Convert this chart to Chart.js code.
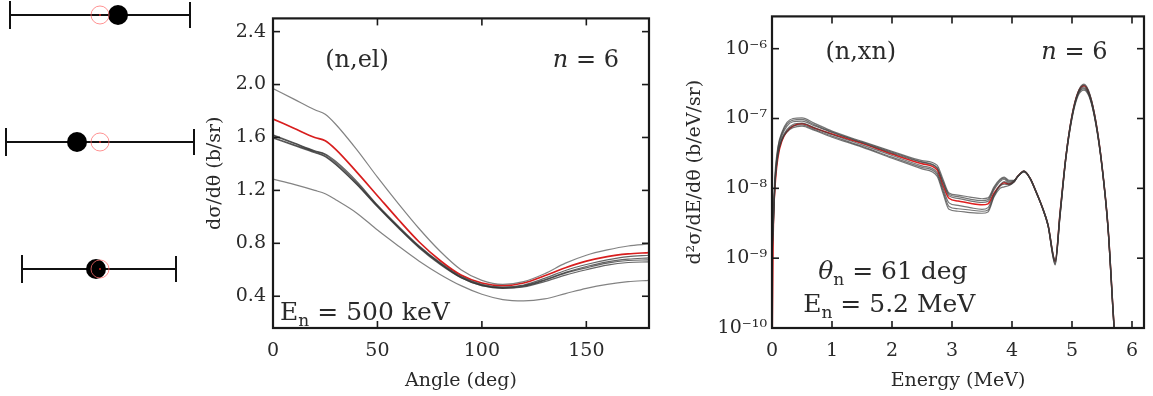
<!DOCTYPE html>
<html>
<head>
<meta charset="utf-8">
<script src="https://cdn.jsdelivr.net/npm/chart.js@4.4.0/dist/chart.umd.min.js"></script>
<style>
  html, body { margin: 0; padding: 0; background: #fff; }
  body { width: 1153px; height: 396px; position: relative; overflow: hidden; }
  canvas { position: absolute; top: 0; }
</style>
</head>
<body>
<canvas id="cLeft" width="200" height="396" style="left:0px"></canvas>
<canvas id="cMid" width="470" height="396" style="left:195px"></canvas>
<canvas id="cRight" width="473" height="396" style="left:680px"></canvas>
<script>
// ---------------- Left panel: error-bar rows ----------------
const rowPos = [1, 2, 3];
const blackX = [118, 77, 96];
const redX = [100, 100, 100];
const errLow = [10, 6, 22];
const errHigh = [190, 194, 176];

// ---------------- Middle panel: (n,el) angular distribution ----------------
const angles = [0, 10, 20, 25, 30, 40, 50, 60, 70, 80, 90, 100, 110, 120, 130, 140, 150, 160, 170, 180];
const elUpper = [1.97, 1.89, 1.81, 1.775, 1.70, 1.51, 1.30, 1.10, 0.91, 0.74, 0.60, 0.52, 0.49, 0.51, 0.57, 0.65, 0.71, 0.75, 0.78, 0.795];
const elDark1 = [1.62, 1.56, 1.50, 1.475, 1.42, 1.27, 1.09, 0.93, 0.78, 0.655, 0.55, 0.49, 0.47, 0.485, 0.535, 0.595, 0.64, 0.675, 0.70, 0.71];
const elDark2 = [1.60, 1.545, 1.49, 1.46, 1.40, 1.25, 1.08, 0.92, 0.77, 0.645, 0.54, 0.48, 0.46, 0.47, 0.51, 0.56, 0.60, 0.635, 0.655, 0.66];
const elDark3 = [1.615, 1.555, 1.495, 1.47, 1.41, 1.26, 1.085, 0.925, 0.775, 0.65, 0.545, 0.485, 0.465, 0.48, 0.525, 0.58, 0.625, 0.66, 0.68, 0.69];
const elDark4 = [1.595, 1.54, 1.485, 1.455, 1.395, 1.245, 1.075, 0.915, 0.765, 0.64, 0.54, 0.48, 0.462, 0.475, 0.52, 0.575, 0.615, 0.65, 0.67, 0.675];
const elLower = [1.285, 1.245, 1.20, 1.175, 1.13, 1.03, 0.90, 0.78, 0.665, 0.565, 0.48, 0.415, 0.375, 0.365, 0.38, 0.42, 0.46, 0.49, 0.51, 0.52];
const elRed = [1.74, 1.67, 1.60, 1.575, 1.51, 1.34, 1.16, 0.98, 0.81, 0.67, 0.56, 0.50, 0.48, 0.50, 0.555, 0.615, 0.665, 0.70, 0.72, 0.73];
const angleTicks = [0, 50, 100, 150];
const elYTicks = [0.4, 0.8, 1.2, 1.6, 2.0, 2.4];

// ---------------- Right panel: (n,xn) energy spectrum ----------------
const energy = [0, 0.02, 0.05, 0.1, 0.17, 0.25, 0.35, 0.5, 0.7, 1.0,
  1.5, 2.0, 2.5, 2.75, 2.85, 2.95, 3.1, 3.3, 3.5, 3.6,
  3.7, 3.8, 3.87, 3.95, 4.03, 4.1, 4.2, 4.3, 4.4, 4.5,
  4.6, 4.72, 4.8, 4.9, 5.0, 5.1, 5.2, 5.3, 5.4, 5.5,
  5.6, 5.7, 5.75];
const xnRed = [3e-11, 2e-9, 1e-8, 2.8e-8, 4.9e-8, 6.5e-8, 7.8e-8, 8.4e-8, 7.3e-8, 6.0e-8,
  4.4e-8, 3.1e-8, 2.25e-8, 1.85e-8, 1.1e-8, 7.2e-9, 6.6e-9, 6.1e-9, 5.8e-9, 6.0e-9,
  8.5e-9, 1.1e-8, 1.2e-8, 1.15e-8, 1.25e-8, 1.5e-8, 1.75e-8, 1.4e-8, 9e-9, 5.5e-9,
  3e-9, 9e-10, 4.4e-9, 2.9e-8, 1.1e-7, 2.36e-7, 2.95e-7, 2.1e-7, 8.7e-8, 2.1e-8,
  2.8e-9, 1.1e-10, 3e-11];
const xnG1 = [1.5e-9, 4e-9, 1.6e-8, 4.0e-8, 6.5e-8, 8.8e-8, 1.0e-7, 1.02e-7, 8.6e-8, 6.6e-8,
  4.7e-8, 3.4e-8, 2.5e-8, 2.15e-8, 1.35e-8, 8.6e-9, 8.0e-9, 7.5e-9, 7.1e-9, 7.3e-9,
  1.05e-8, 1.35e-8, 1.45e-8, 1.3e-8, 1.3e-8, 1.5e-8, 1.78e-8, 1.42e-8, 9.2e-9, 5.6e-9,
  3.1e-9, 9.5e-10, 4.5e-9, 3.0e-8, 1.12e-7, 2.4e-7, 3.1e-7, 2.2e-7, 9e-8, 2.2e-8,
  3e-9, 1.2e-10, 3e-11];
const xnG2 = [1.0e-9, 2.5e-9, 1.1e-8, 3.0e-8, 5.0e-8, 6.4e-8, 7.4e-8, 7.8e-8, 6.8e-8, 5.4e-8,
  3.9e-8, 2.7e-8, 1.9e-8, 1.5e-8, 8.5e-9, 5.0e-9, 4.7e-9, 4.5e-9, 4.4e-9, 4.6e-9,
  7.5e-9, 1.0e-8, 1.05e-8, 1.1e-8, 1.22e-8, 1.48e-8, 1.72e-8, 1.38e-8, 8.8e-9, 5.4e-9,
  2.9e-9, 8e-10, 3.9e-9, 2.7e-8, 1.0e-7, 2.1e-7, 2.55e-7, 1.9e-7, 8.0e-8, 2.0e-8,
  2.6e-9, 1.0e-10, 3e-11];
const xnG3 = [1.3e-9, 3e-9, 1.3e-8, 3.5e-8, 5.8e-8, 7.8e-8, 9.0e-8, 9.2e-8, 7.9e-8, 6.3e-8,
  4.5e-8, 3.2e-8, 2.35e-8, 1.95e-8, 1.2e-8, 7.8e-9, 7.2e-9, 6.6e-9, 6.3e-9, 6.5e-9,
  9.5e-9, 1.25e-8, 1.35e-8, 1.2e-8, 1.27e-8, 1.5e-8, 1.76e-8, 1.4e-8, 9e-9, 5.5e-9,
  3e-9, 9e-10, 4.3e-9, 2.95e-8, 1.08e-7, 2.3e-7, 2.85e-7, 2.05e-7, 8.5e-8, 2.1e-8,
  2.8e-9, 1.1e-10, 3e-11];
const xnG4 = [1.2e-9, 2.8e-9, 1.2e-8, 3.2e-8, 5.3e-8, 7.0e-8, 8.2e-8, 8.6e-8, 7.4e-8, 5.9e-8,
  4.2e-8, 2.95e-8, 2.1e-8, 1.7e-8, 1.0e-8, 6.2e-9, 5.7e-9, 5.3e-9, 5.0e-9, 5.3e-9,
  8.2e-9, 1.12e-8, 1.25e-8, 1.15e-8, 1.24e-8, 1.49e-8, 1.74e-8, 1.39e-8, 8.9e-9, 5.45e-9,
  2.95e-9, 8.5e-10, 4.0e-9, 2.8e-8, 1.05e-7, 2.25e-7, 2.75e-7, 2.0e-7, 8.3e-8, 2.05e-8,
  2.7e-9, 1.05e-10, 3e-11];
const xnG5 = [1.4e-9, 3.5e-9, 1.4e-8, 3.8e-8, 6.2e-8, 8.3e-8, 9.5e-8, 9.7e-8, 8.2e-8, 6.4e-8,
  4.6e-8, 3.3e-8, 2.4e-8, 2.0e-8, 1.25e-8, 8.2e-9, 7.6e-9, 7.0e-9, 6.7e-9, 6.9e-9,
  1.0e-8, 1.3e-8, 1.4e-8, 1.25e-8, 1.28e-8, 1.5e-8, 1.77e-8, 1.41e-8, 9.1e-9, 5.55e-9,
  3.05e-9, 9.2e-10, 4.4e-9, 3.0e-8, 1.1e-7, 2.35e-7, 3.0e-7, 2.15e-7, 8.8e-8, 2.15e-8,
  2.9e-9, 1.15e-10, 3e-11];
const xnG6 = [1.1e-9, 2.6e-9, 1.15e-8, 3.1e-8, 5.1e-8, 6.7e-8, 7.8e-8, 8.1e-8, 7.0e-8, 5.6e-8,
  4.0e-8, 2.8e-8, 2.0e-8, 1.6e-8, 9.2e-9, 5.5e-9, 5.1e-9, 4.9e-9, 4.7e-9, 4.9e-9,
  7.8e-9, 1.08e-8, 1.15e-8, 1.12e-8, 1.23e-8, 1.48e-8, 1.73e-8, 1.38e-8, 8.85e-9, 5.4e-9,
  2.9e-9, 8.2e-10, 3.95e-9, 2.75e-8, 1.02e-7, 2.2e-7, 2.65e-7, 1.95e-7, 8.1e-8, 2.0e-8,
  2.65e-9, 1.0e-10, 3e-11];
const energyTicks = [0, 1, 2, 3, 4, 5, 6];
const xnDecades = [-10, -9, -8, -7, -6];

// ---------------- helpers ----------------
const SERIF = '"DejaVu Serif", "Liberation Serif", serif';
const TXT = '#2a2a2a';
const pts = (xs, ys) => xs.map((x, i) => ({ x: x, y: ys[i] }));
const supMap = { '-': '\u207B', '0': '\u2070', '1': '\u00B9', '2': '\u00B2', '3': '\u00B3', '4': '\u2074', '5': '\u2075', '6': '\u2076', '7': '\u2077', '8': '\u2078', '9': '\u2079' };
const sup = s => String(s).split('').map(c => supMap[c] || c).join('');

function framePlugin(tickLen) {
  return {
    id: 'frame',
    afterDatasetsDraw(chart) {
      const { ctx, chartArea: a, scales } = chart;
      ctx.save();
      ctx.strokeStyle = '#1a1a1a';
      ctx.lineWidth = 1.6;
      const ln = (x1, y1, x2, y2) => { ctx.beginPath(); ctx.moveTo(x1, y1); ctx.lineTo(x2, y2); ctx.stroke(); };
      scales.x.ticks.forEach(t => {
        const px = scales.x.getPixelForValue(t.value);
        ln(px, a.bottom, px, a.bottom - tickLen);
        ln(px, a.top, px, a.top + tickLen);
      });
      scales.y.ticks.forEach(t => {
        const py = scales.y.getPixelForValue(t.value);
        ln(a.left, py, a.left + tickLen, py);
        ln(a.right, py, a.right - tickLen, py);
      });
      ctx.lineWidth = 2.2;
      ctx.strokeRect(a.left, a.top, a.right - a.left, a.bottom - a.top);
      ctx.restore();
    }
  };
}

function notesPlugin(items) {
  return {
    id: 'notes',
    afterDraw(chart) {
      const { ctx, scales } = chart;
      ctx.save();
      ctx.fillStyle = TXT;
      ctx.textBaseline = 'middle';
      items.forEach(it => {
        const fontFor = p => (p.it ? 'italic ' : '') + Math.round(p.sub ? it.size * 0.68 : it.size) + 'px ' + SERIF;
        let w = 0;
        it.parts.forEach(p => { ctx.font = fontFor(p); w += ctx.measureText(p.t).width; });
        let x = scales.x.getPixelForValue(it.x);
        const y = scales.y.getPixelForValue(it.y);
        if (it.align === 'right') x -= w;
        it.parts.forEach(p => {
          ctx.font = fontFor(p);
          ctx.textAlign = 'left';
          ctx.fillText(p.t, x, p.sub ? y + it.size * 0.32 : y);
          x += ctx.measureText(p.t).width;
        });
      });
      ctx.restore();
    }
  };
}

const baseOpts = {
  responsive: false,
  animation: false,
  devicePixelRatio: 1,
  events: [],
  plugins: { legend: { display: false }, tooltip: { enabled: false } },
  elements: { point: { radius: 0 } }
};

// ---------------- Left chart ----------------
const errorBarPlugin = {
  id: 'errbars',
  beforeDatasetsDraw(chart) {
    const { ctx, scales } = chart;
    ctx.save();
    ctx.strokeStyle = '#111';
    ctx.lineWidth = 2;
    rowPos.forEach((r, i) => {
      const y = scales.y.getPixelForValue(r);
      const x1 = scales.x.getPixelForValue(errLow[i]);
      const x2 = scales.x.getPixelForValue(errHigh[i]);
      ctx.beginPath(); ctx.moveTo(x1, y); ctx.lineTo(x2, y); ctx.stroke();
      ctx.beginPath(); ctx.moveTo(x1, y - 14); ctx.lineTo(x1, y + 14); ctx.stroke();
      ctx.beginPath(); ctx.moveTo(x2, y - 13); ctx.lineTo(x2, y + 13); ctx.stroke();
    });
    ctx.restore();
  }
};

new Chart(document.getElementById('cLeft'), {
  type: 'scatter',
  data: {
    datasets: [
      { data: pts(redX, rowPos), pointRadius: 9, pointBorderWidth: 1, pointBorderColor: 'rgba(255,110,110,0.75)', pointBackgroundColor: 'rgba(255,255,255,0)' },
      { data: pts(redX, rowPos), pointRadius: 1, pointBorderWidth: 0, pointBackgroundColor: 'rgba(230,40,40,0.9)' },
      { data: pts(blackX, rowPos), pointRadius: 10, pointBorderWidth: 0, pointBackgroundColor: '#000' }
    ]
  },
  options: Object.assign({}, baseOpts, {
    layout: { padding: 0, autoPadding: false },
    scales: {
      x: { type: 'linear', min: 0, max: 200, display: false },
      y: { type: 'linear', min: 0.882, max: 4.0, reverse: true, display: false }
    }
  }),
  plugins: [errorBarPlugin]
});

// ---------------- Middle chart ----------------
const grayThin = (d, c) => ({ data: d, borderColor: c, borderWidth: 1.2, fill: false, cubicInterpolationMode: 'monotone' });
const tickFont = { family: SERIF, size: 19 };
const titleFont = { family: SERIF, size: 19 };

new Chart(document.getElementById('cMid'), {
  type: 'line',
  data: {
    datasets: [
      grayThin(pts(angles, elUpper), 'rgba(90,90,90,0.75)'),
      grayThin(pts(angles, elLower), 'rgba(90,90,90,0.75)'),
      grayThin(pts(angles, elDark1), 'rgba(50,50,50,0.75)'),
      grayThin(pts(angles, elDark2), 'rgba(50,50,50,0.75)'),
      grayThin(pts(angles, elDark3), 'rgba(50,50,50,0.75)'),
      grayThin(pts(angles, elDark4), 'rgba(50,50,50,0.75)'),
      { data: pts(angles, elRed), borderColor: '#d81e1e', borderWidth: 1.7, fill: false, cubicInterpolationMode: 'monotone' }
    ]
  },
  options: Object.assign({}, baseOpts, {
    layout: { padding: { left: 0, right: 16, top: 15, bottom: 0 } },
    scales: {
      x: {
        type: 'linear', min: 0, max: 180,
        afterBuildTicks: s => { s.ticks = angleTicks.map(v => ({ value: v })); },
        afterFit: s => { s.height = 68; },
        grid: { display: false, drawTicks: false },
        border: { display: false },
        ticks: { font: tickFont, color: TXT, padding: 12, maxRotation: 0, callback: v => String(v) },
        title: { display: true, text: 'Angle (deg)', font: titleFont, color: TXT, padding: { top: 0, bottom: 4 } }
      },
      y: {
        type: 'linear', min: 0.16, max: 2.5,
        afterBuildTicks: s => { s.ticks = elYTicks.map(v => ({ value: v })); },
        afterFit: s => { s.width = 78; },
        grid: { display: false, drawTicks: false },
        border: { display: false },
        ticks: { font: tickFont, color: TXT, padding: 7, callback: v => Number(v).toFixed(1) },
        title: { display: true, text: 'd\u03C3/d\u03B8 (b/sr)', font: titleFont, color: TXT, padding: { top: 9, bottom: 0 } }
      }
    }
  }),
  plugins: [framePlugin(7), notesPlugin([
    { x: 25, y: 2.18, size: 24, parts: [{ t: '(n,el)' }] },
    { x: 165.6, y: 2.18, size: 24, align: 'right', parts: [{ t: 'n', it: true }, { t: ' = 6' }] },
    { x: 3.4, y: 0.27, size: 25, parts: [{ t: 'E' }, { t: 'n', sub: true }, { t: ' = 500 keV' }] }
  ])]
});

// ---------------- Right chart ----------------
new Chart(document.getElementById('cRight'), {
  type: 'line',
  data: {
    datasets: [
      grayThin(pts(energy, xnG1), 'rgba(60,60,60,0.7)'),
      grayThin(pts(energy, xnG2), 'rgba(60,60,60,0.7)'),
      grayThin(pts(energy, xnG3), 'rgba(60,60,60,0.7)'),
      grayThin(pts(energy, xnG4), 'rgba(60,60,60,0.7)'),
      grayThin(pts(energy, xnG5), 'rgba(60,60,60,0.7)'),
      grayThin(pts(energy, xnG6), 'rgba(60,60,60,0.7)'),
      { data: pts(energy, xnRed), borderColor: '#e02020', borderWidth: 1.5, fill: false, cubicInterpolationMode: 'monotone' }
    ]
  },
  options: Object.assign({}, baseOpts, {
    layout: { padding: { left: 0, right: 9, top: 15, bottom: 0 } },
    scales: {
      x: {
        type: 'linear', min: 0, max: 6.2,
        afterBuildTicks: s => { s.ticks = energyTicks.map(v => ({ value: v })); },
        afterFit: s => { s.height = 68; },
        grid: { display: false, drawTicks: false },
        border: { display: false },
        ticks: { font: tickFont, color: TXT, padding: 12, maxRotation: 0, callback: v => String(v) },
        title: { display: true, text: 'Energy (MeV)', font: titleFont, color: TXT, padding: { top: 0, bottom: 4 } }
      },
      y: {
        type: 'logarithmic', min: 1e-10, max: 2.9e-6,
        afterBuildTicks: s => { s.ticks = xnDecades.map(e => ({ value: Math.pow(10, e) })); },
        afterFit: s => { s.width = 92; },
        grid: { display: false, drawTicks: false },
        border: { display: false },
        ticks: { font: tickFont, color: TXT, padding: 5, callback: v => '10' + sup(Math.round(Math.log10(v))) },
        title: { display: true, text: 'd\u00B2\u03C3/dE/d\u03B8 (b/eV/sr)', font: titleFont, color: TXT, padding: { top: 4, bottom: 0 } }
      }
    }
  }),
  plugins: [framePlugin(7), notesPlugin([
    { x: 0.89, y: 8.8e-7, size: 24, parts: [{ t: '(n,xn)' }] },
    { x: 5.59, y: 8.8e-7, size: 24, align: 'right', parts: [{ t: 'n', it: true }, { t: ' = 6' }] },
    { x: 0.77, y: 6.3e-10, size: 25, parts: [{ t: '\u03B8', it: true }, { t: 'n', sub: true }, { t: ' = 61 deg' }] },
    { x: 0.52, y: 2.1e-10, size: 25, parts: [{ t: 'E' }, { t: 'n', sub: true }, { t: ' = 5.2 MeV' }] }
  ])]
});
</script>
</body>
</html>
